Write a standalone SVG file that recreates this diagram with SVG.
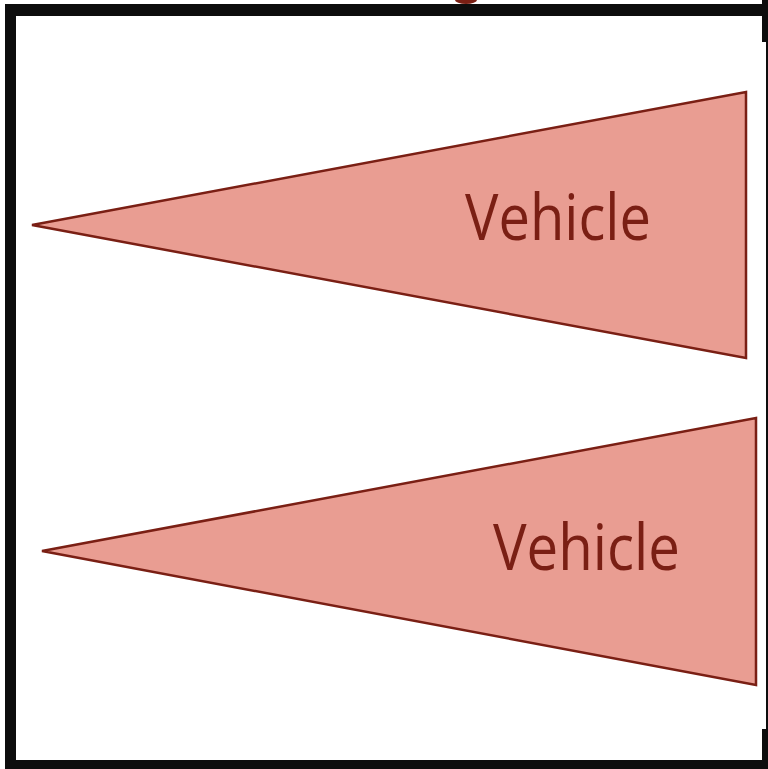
<svg xmlns="http://www.w3.org/2000/svg" width="768" height="769" viewBox="0 0 768 769">
<style>
.frame{fill:#0d0d0d}
.veh{fill:#e99d92;stroke:#7a1f14;stroke-width:2.5;stroke-linejoin:miter}
.lbl{font-family:"Open Sans","Liberation Sans",sans-serif;font-size:64px;fill:#7a1f14}
</style>
<rect width="768" height="769" fill="#ffffff"/>
<g id="frame">
<rect class="frame" x="5" y="4" width="763" height="12"/>
<rect class="frame" x="5" y="4" width="11" height="765"/>
<rect class="frame" x="5" y="760" width="763" height="9"/>
<rect class="frame" x="762" y="0" width="6" height="42"/>
<rect class="frame" x="766" y="42" width="2" height="688"/>
<rect class="frame" x="762" y="729" width="6" height="40"/>
<ellipse cx="466" cy="0" rx="11" ry="4" fill="#7a1f14"/>
</g>
<g id="vehicle1">
<polygon class="veh" points="32,225 746,92 746,358"/>
<text class="lbl" x="465" y="240" textLength="186" lengthAdjust="spacingAndGlyphs">Vehicle</text>
</g>
<g id="vehicle2">
<polygon class="veh" points="42,551 756,418 756,685"/>
<text class="lbl" x="493" y="570" textLength="187" lengthAdjust="spacingAndGlyphs">Vehicle</text>
</g>
<g id="connectors"></g>
</svg>
